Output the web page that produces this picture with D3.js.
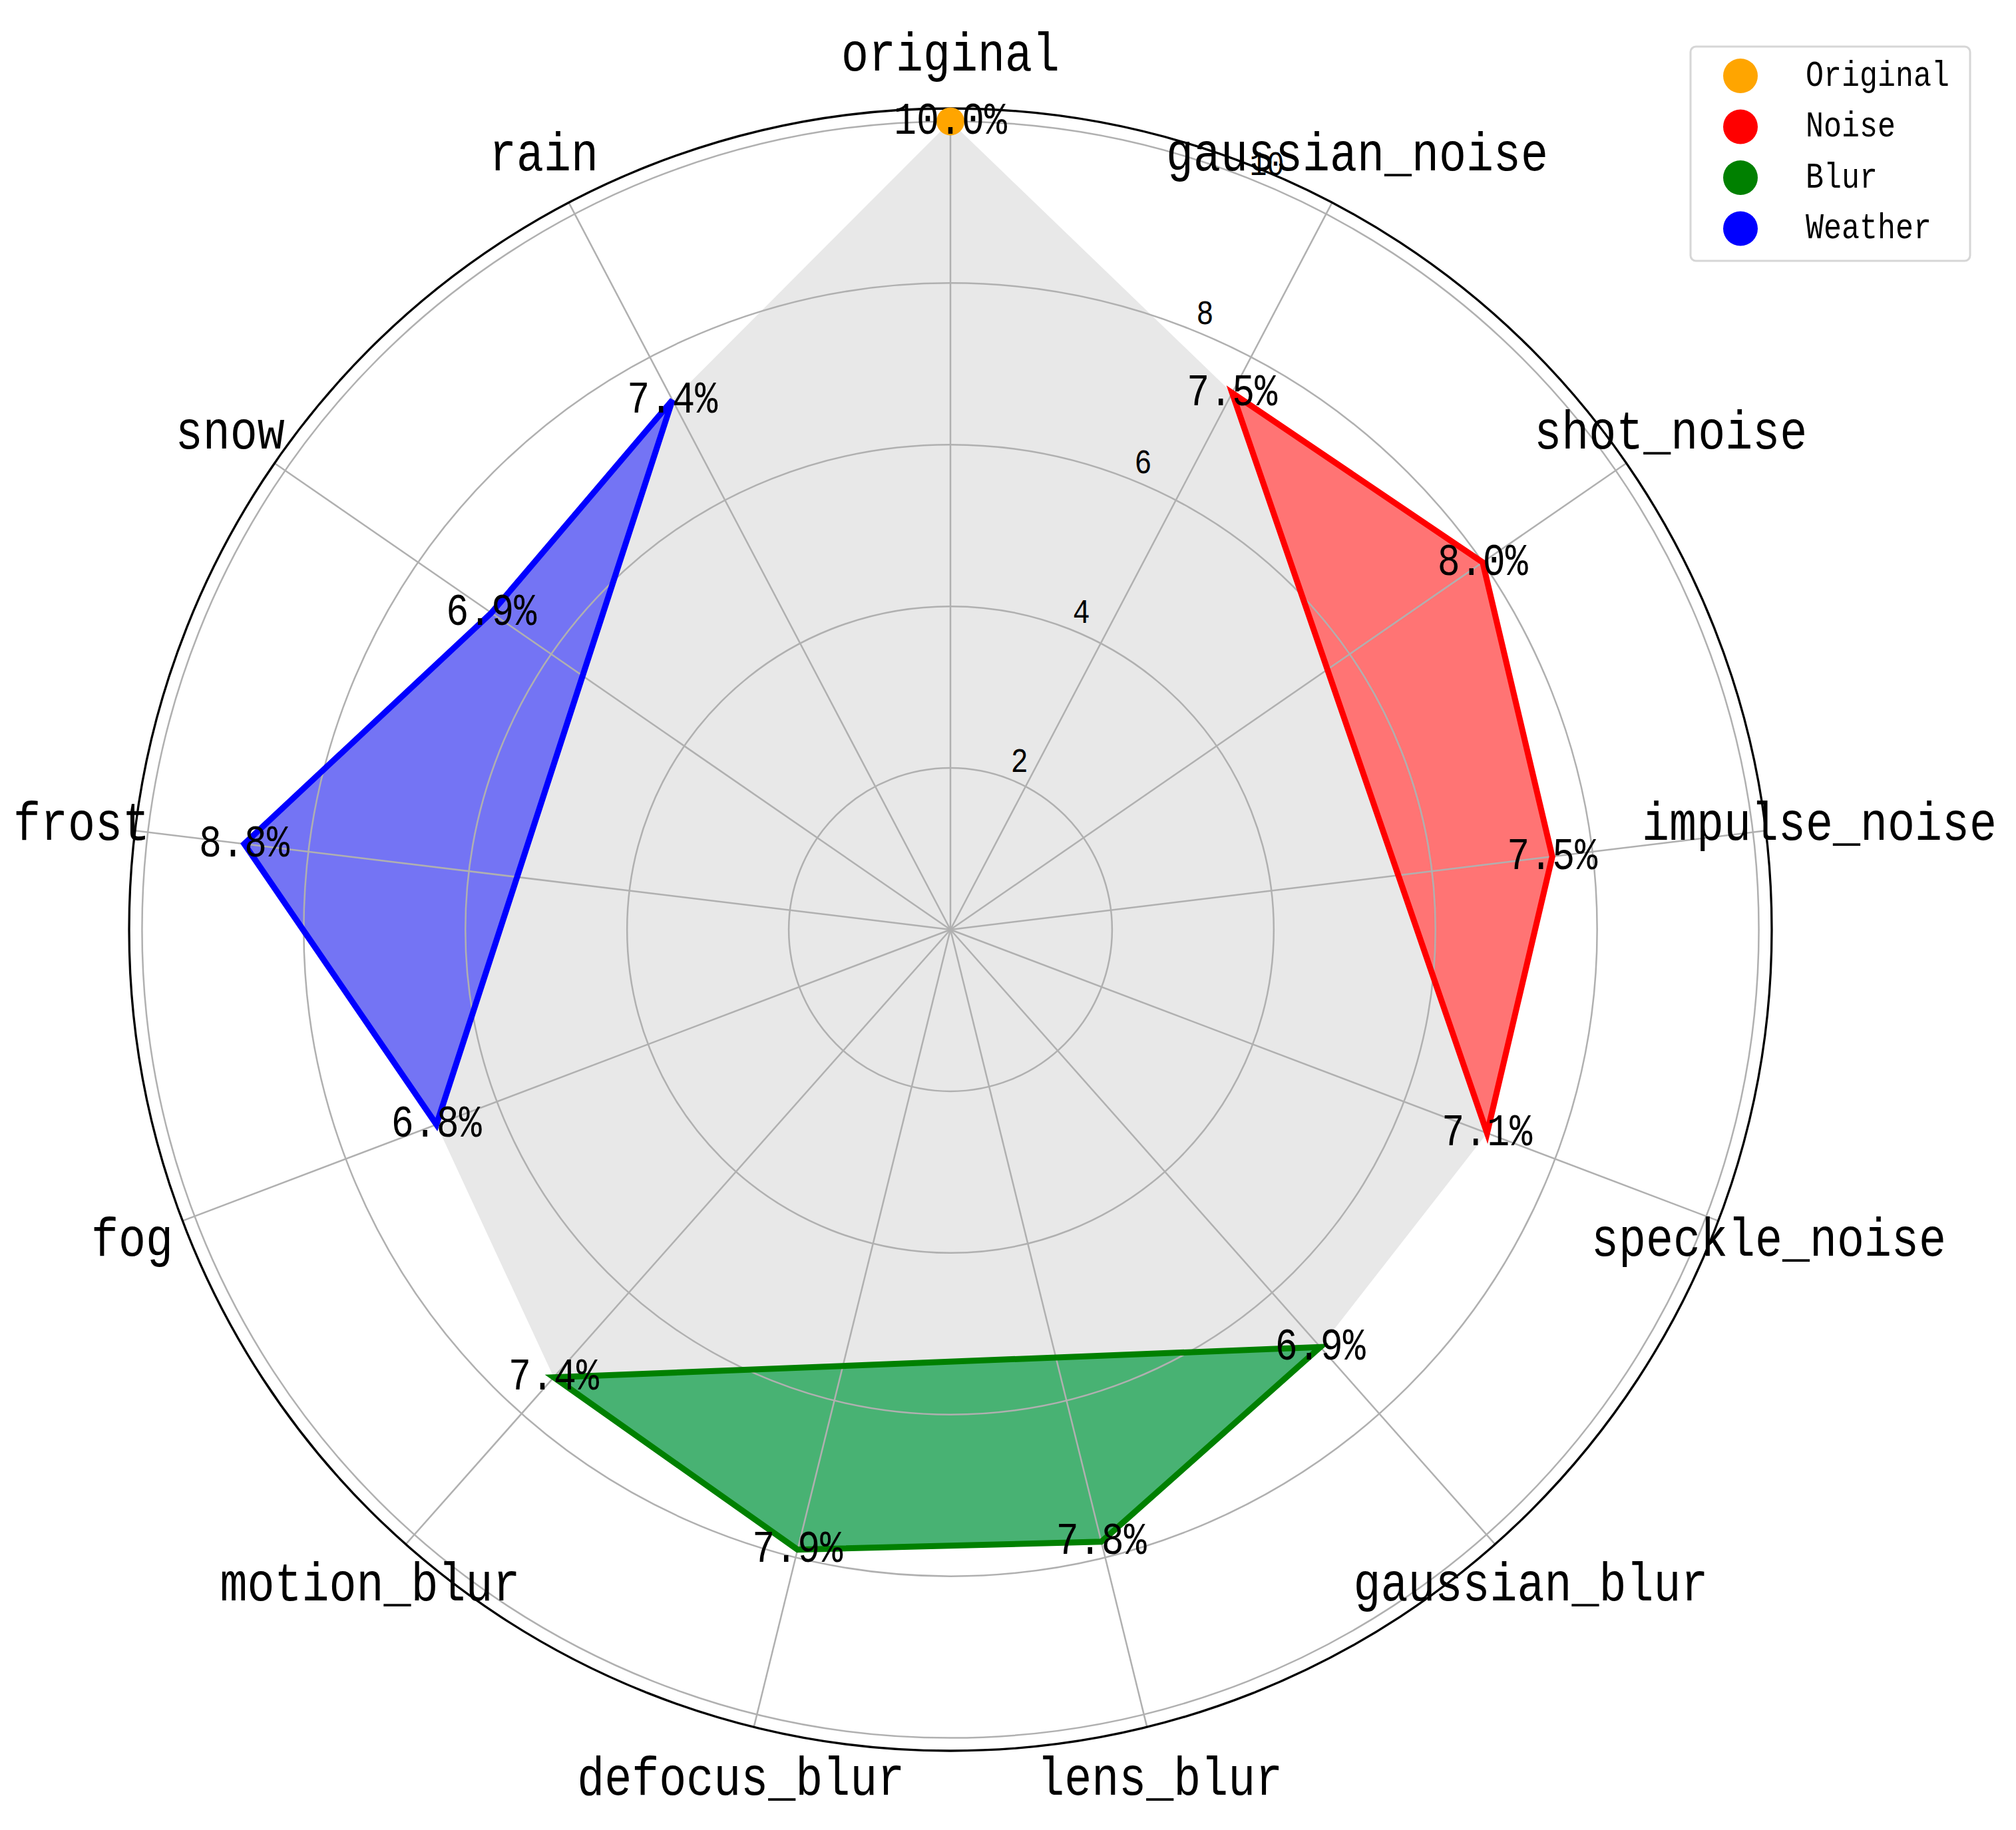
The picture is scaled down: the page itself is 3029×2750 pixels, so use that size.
<!DOCTYPE html>
<html>
<head>
<meta charset="utf-8">
<script src="https://cdn.jsdelivr.net/npm/d3@7"></script>
<style>
  body { margin: 0; background: #fff; }
  text { font-family: "Liberation Mono", "DejaVu Sans Mono", monospace; fill: #000; }
</style>
</head>
<body>
<svg id="chart"></svg>
<script>
// categories clockwise from the top
var categories = ["original", "gaussian_noise", "shot_noise", "impulse_noise", "speckle_noise",
  "gaussian_blur", "lens_blur", "defocus_blur", "motion_blur", "fog", "frost", "snow", "rain"];
var values = [10.0, 7.5, 8.0, 7.5, 7.1, 6.9, 7.8, 7.9, 7.4, 6.8, 8.8, 6.9, 7.4];

var noiseCats = ["gaussian_noise", "shot_noise", "impulse_noise", "speckle_noise"];
var blurCats = ["gaussian_blur", "lens_blur", "defocus_blur", "motion_blur"];
var weatherCats = ["fog", "frost", "snow", "rain"];

var rTicks = [2, 4, 6, 8, 10];
var legendNames = ["Original", "Noise", "Blur", "Weather"];
var legendColors = ["#ffa500", "#ff0000", "#008000", "#0000ff"];

var width = 3029, height = 2750;
var cx = 1428, cy = 1397;

var svg = d3.select("#chart")
  .attr("width", width)
  .attr("height", height);

svg.append("rect").attr("width", width).attr("height", height).attr("fill", "#fff");

var g = svg.append("g")
  .attr("transform", "translate(" + cx + "," + cy + ")");

var n = categories.length;
var angle = d3.scaleLinear().domain([0, n]).range([0, 2 * Math.PI]);
var r = d3.scaleLinear().domain([0, 10.16]).range([0, 1234]);

function px(i, v) { return Math.sin(angle(i)) * v; }
function py(i, v) { return -Math.cos(angle(i)) * v; }

// half width glyphs, like the SimHei look of the original
function mono(sel, fs) {
  sel.style("font-size", fs + "px")
    .attr("textLength", function(d) { return String(d.t).length * fs * 0.5; })
    .attr("lengthAdjust", "spacingAndGlyphs");
}

var radial = d3.lineRadial()
  .angle(function(d) { return angle(d.i); })
  .radius(function(d) { return r(d.v); })
  .curve(d3.curveLinearClosed);

var allPts = values.map(function(v, i) { return {i: i, v: v}; });

// grey area of all values
g.append("path")
  .attr("d", radial(allPts))
  .attr("fill", "#e8e8e8");

var groups = [
  {cats: noiseCats, fill: "#ff7474", stroke: "#ff0000"},
  {cats: blurCats, fill: "#48b273", stroke: "#008000"},
  {cats: weatherCats, fill: "#7474f4", stroke: "#0000ff"}
];

groups.forEach(function(gr) {
  gr.pts = gr.cats.map(function(c) {
    var i = categories.indexOf(c);
    return {i: i, v: values[i]};
  });
  g.append("path")
    .attr("d", radial(gr.pts))
    .attr("fill", gr.fill);
});

// grid
g.selectAll(".ring")
  .data(rTicks)
  .enter()
  .append("circle")
    .attr("r", function(d) { return r(d); })
    .attr("fill", "none")
    .attr("stroke", "#b0b0b0")
    .attr("stroke-width", 2.5);

g.selectAll(".spoke")
  .data(categories)
  .enter()
  .append("line")
    .attr("x1", 0).attr("y1", 0)
    .attr("x2", function(d, i) { return px(i, r(10.16)); })
    .attr("y2", function(d, i) { return py(i, r(10.16)); })
    .attr("stroke", "#b0b0b0")
    .attr("stroke-width", 2.5);

g.append("circle")
  .attr("r", r(10.16))
  .attr("fill", "none")
  .attr("stroke", "#000")
  .attr("stroke-width", 3.3);

// outlines
groups.forEach(function(gr) {
  g.append("path")
    .attr("d", radial(gr.pts))
    .attr("fill", "none")
    .attr("stroke", gr.stroke)
    .attr("stroke-width", 9)
    .attr("stroke-linejoin", "miter");
});

// original point
g.append("circle")
  .attr("cx", px(0, r(values[0])))
  .attr("cy", py(0, r(values[0])))
  .attr("r", 21)
  .attr("fill", "#ffa500");

// radial tick labels at 22.5 deg
var labAng = 22.5 * Math.PI / 180;
g.selectAll(".rlab")
  .data(rTicks.map(function(d) { return {t: d}; }))
  .enter()
  .append("text")
    .attr("x", function(d) { return Math.sin(labAng) * (r(d.t) + 28); })
    .attr("y", function(d) { return -Math.cos(labAng) * (r(d.t) + 28); })
    .attr("text-anchor", "middle")
    .attr("dominant-baseline", "central")
    .text(function(d) { return d.t; })
    .call(mono, 52);

// category labels
g.selectAll(".clab")
  .data(categories.map(function(c, i) { return {t: c, i: i}; }))
  .enter()
  .append("text")
    .attr("x", function(d) { return px(d.i, 1315); })
    .attr("y", function(d) { return py(d.i, 1315) + 2; })
    .attr("text-anchor", "middle")
    .attr("dominant-baseline", "central")
    .text(function(d) { return d.t; })
    .call(mono, 82);

// value labels
g.selectAll(".vlab")
  .data(values.map(function(v, i) { return {t: v.toFixed(1) + "%", i: i, v: v}; }))
  .enter()
  .append("text")
    .attr("x", function(d) { return px(d.i, r(d.v)); })
    .attr("y", function(d) { return py(d.i, r(d.v)); })
    .attr("text-anchor", "middle")
    .attr("dominant-baseline", "central")
    .text(function(d) { return d.t; })
    .call(mono, 68);

// legend
var leg = svg.append("g");
leg.append("rect")
  .attr("x", 2540).attr("y", 70)
  .attr("width", 420).attr("height", 322)
  .attr("rx", 8)
  .attr("fill", "#fff")
  .attr("stroke", "#d6d6d6")
  .attr("stroke-width", 3);

var items = leg.selectAll(".item")
  .data(legendNames.map(function(d, i) { return {t: d, c: legendColors[i], i: i}; }))
  .enter()
  .append("g")
    .attr("transform", function(d) { return "translate(0," + (114 + d.i * 76.5) + ")"; });

items.append("circle")
  .attr("cx", 2615).attr("cy", 0)
  .attr("r", 26)
  .attr("fill", function(d) { return d.c; });

items.append("text")
  .attr("x", 2713).attr("y", 0)
  .attr("dominant-baseline", "central")
  .text(function(d) { return d.t; })
  .call(mono, 54);
</script>
</body>
</html>
